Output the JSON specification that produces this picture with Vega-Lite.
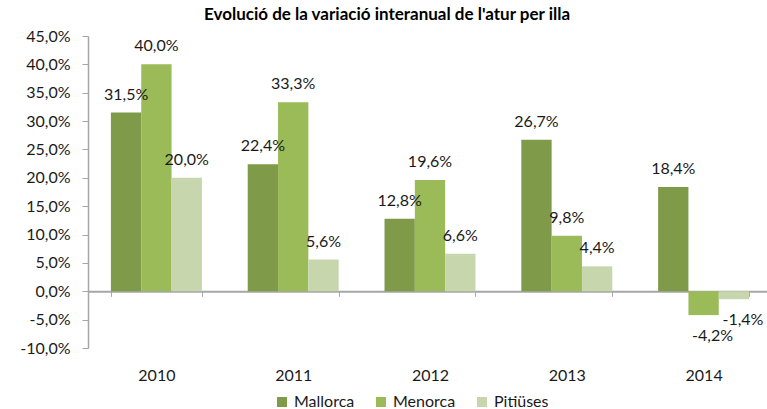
{
  "$schema": "https://vega.github.io/schema/vega-lite/v6.json",
  "width": 684,
  "height": 312,
  "autosize": {"type": "none"},
  "padding": {"left": 88, "top": 36, "right": 0, "bottom": 61},
  "title": {
    "text": "Evolució de la variació interanual de l'atur per illa",
    "font": "Lato",
    "fontSize": 17,
    "fontWeight": "bold",
    "color": "#000000",
    "anchor": "middle",
    "frame": "group",
    "dx": -43,
    "offset": 4
  },
  "config": {
    "view": {"stroke": null},
    "locale": {
      "number": {"decimal": ",", "thousands": ".", "grouping": [3], "currency": ["", " €"], "minus": "-"}
    },
    "font": "Lato"
  },
  "data": {
    "values": [
      {"any": "2010", "illa": "Mallorca", "valor": 0.315},
      {"any": "2010", "illa": "Menorca", "valor": 0.400},
      {"any": "2010", "illa": "Pitiüses", "valor": 0.200},
      {"any": "2011", "illa": "Mallorca", "valor": 0.224},
      {"any": "2011", "illa": "Menorca", "valor": 0.333},
      {"any": "2011", "illa": "Pitiüses", "valor": 0.056},
      {"any": "2012", "illa": "Mallorca", "valor": 0.128},
      {"any": "2012", "illa": "Menorca", "valor": 0.196},
      {"any": "2012", "illa": "Pitiüses", "valor": 0.066},
      {"any": "2013", "illa": "Mallorca", "valor": 0.267},
      {"any": "2013", "illa": "Menorca", "valor": 0.098},
      {"any": "2013", "illa": "Pitiüses", "valor": 0.044},
      {"any": "2014", "illa": "Mallorca", "valor": 0.184},
      {"any": "2014", "illa": "Menorca", "valor": -0.042},
      {"any": "2014", "illa": "Pitiüses", "valor": -0.014}
    ]
  },
  "encoding": {
    "x": {
      "field": "any",
      "type": "nominal",
      "scale": {"paddingInner": 0.335, "paddingOuter": 0.1675},
      "axis": {
        "title": null,
        "orient": "bottom",
        "offset": -56.7,
        "labelAngle": 0,
        "domainColor": "#A6A6A6",
        "domainWidth": 2,
        "tickColor": "#A6A6A6",
        "tickWidth": 1,
        "tickSize": 5,
        "tickBand": "extent",
        "labelPadding": 71,
        "labelFontSize": 16,
        "labelFont": "Lato",
        "labelColor": "#1a1a1a"
      }
    },
    "xOffset": {
      "field": "illa",
      "type": "nominal",
      "sort": ["Mallorca", "Menorca", "Pitiüses"]
    },
    "y": {
      "field": "valor",
      "type": "quantitative",
      "scale": {"domain": [-0.1, 0.45], "nice": false, "zero": false},
      "axis": {
        "title": null,
        "values": [-0.1, -0.05, 0, 0.05, 0.1, 0.15, 0.2, 0.25, 0.3, 0.35, 0.4, 0.45],
        "format": ".1%",
        "grid": false,
        "domainColor": "#A6A6A6",
        "domainWidth": 1.5,
        "tickColor": "#A6A6A6",
        "tickSize": 6,
        "labelPadding": 12,
        "labelFontSize": 16,
        "labelFont": "Lato",
        "labelColor": "#1a1a1a"
      }
    }
  },
  "layer": [
    {
      "mark": {"type": "bar"},
      "encoding": {
        "color": {
          "field": "illa",
          "type": "nominal",
          "sort": ["Mallorca", "Menorca", "Pitiüses"],
          "scale": {
            "domain": ["Mallorca", "Menorca", "Pitiüses"],
            "range": ["#7F9A48", "#9BBB59", "#C8D6AE"]
          },
          "legend": {
            "title": null,
            "orient": "none",
            "direction": "horizontal",
            "legendX": 186,
            "legendY": 358,
            "symbolType": "square",
            "symbolSize": 100,
            "symbolStrokeWidth": 0,
            "labelFontSize": 16,
            "labelFont": "Lato",
            "labelColor": "#1a1a1a",
            "labelOffset": 4,
            "columnPadding": 18,
            "padding": 0
          }
        }
      }
    },
    {
      "transform": [{"filter": "datum.valor >= 0"}],
      "mark": {"type": "text", "baseline": "middle", "dy": -18, "fontSize": 16, "font": "Lato", "color": "#1a1a1a"},
      "encoding": {
        "text": {"field": "valor", "type": "quantitative", "format": ".1%"}
      }
    },
    {
      "transform": [{"filter": "datum.valor < 0"}],
      "mark": {"type": "text", "baseline": "middle", "dy": 21, "dx": 9, "fontSize": 16, "font": "Lato", "color": "#1a1a1a"},
      "encoding": {
        "text": {"field": "valor", "type": "quantitative", "format": ".1%"}
      }
    }
  ]
}
